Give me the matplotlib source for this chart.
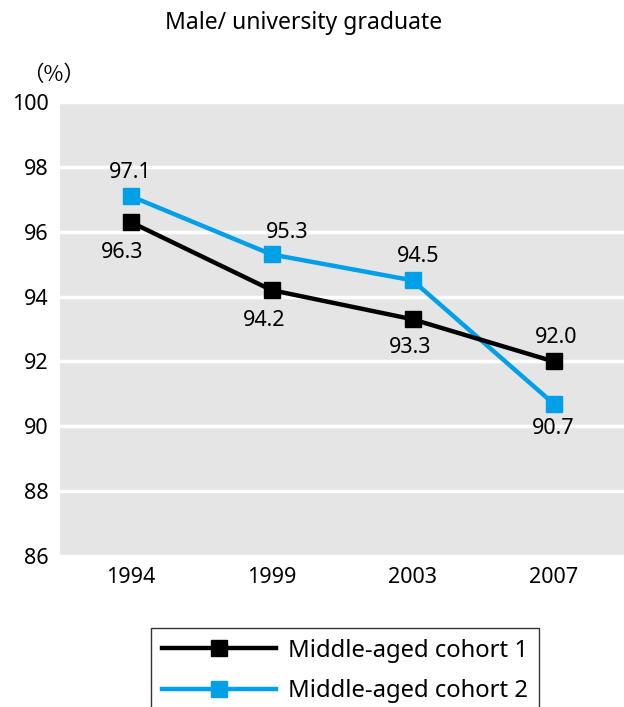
import matplotlib.pyplot as plt

plt.rcParams['font.family'] = ['Noto Sans', 'DejaVu Sans']

# Survey years and shares (%) for the two cohorts
years = ['1994', '1999', '2003', '2007']
cohort_1 = [96.3, 94.2, 93.3, 92.0]
cohort_2 = [97.1, 95.3, 94.5, 90.7]
names = ['Middle-aged cohort 1', 'Middle-aged cohort 2']
y_ticks = [86, 88, 90, 92, 94, 96, 98, 100]

BLUE = '#00a0e9'
BG = '#e5e5e5'

fig = plt.figure(figsize=(6.24, 7.07), dpi=100)
ax = fig.add_axes([0.0962, 0.2136, 0.9038, 0.6421])
ax.set_facecolor(BG)

xs = list(range(len(years)))
l1, = ax.plot(xs, cohort_1, color='black', lw=3.2, marker='s', ms=12,
              zorder=4, label=names[0])
l2, = ax.plot(xs, cohort_2, color=BLUE, lw=3.2, marker='s', ms=12,
              zorder=3, label=names[1])

# value labels: (dx, dy) in points
off_1 = [(-6, -22), (-5, -22), (-2, -20), (2, 17)]
off_2 = [(0, 17), (11, 16), (4, 17), (0, -18)]
for i in xs:
    ax.annotate(f'{cohort_1[i]:.1f}', (i, cohort_1[i]), xytext=off_1[i],
                textcoords='offset points', ha='center', va='center',
                fontsize=15.5, zorder=5)
    ax.annotate(f'{cohort_2[i]:.1f}', (i, cohort_2[i]), xytext=off_2[i],
                textcoords='offset points', ha='center', va='center',
                fontsize=15.5, zorder=5)

ax.set_xlim(-0.5, 3.5)
ax.set_ylim(86, 100)
ax.set_xticks(xs)
ax.set_xticklabels(years)
ax.set_yticks(y_ticks)
ax.tick_params(length=0, labelsize=15.5, pad=8)
ax.grid(axis='y', color='white', lw=2.5)
ax.set_axisbelow(True)
for s in ax.spines.values():
    s.set_visible(False)

fig.text(0.486, 0.968, 'Male/ university graduate', ha='center', va='center', fontsize=16.5)
fig.text(0.085, 0.894, '（%）', ha='center', va='center', fontsize=15.5,
         family=['Noto Sans CJK JP', 'DejaVu Sans'])

leg = fig.legend(handles=[l1, l2], loc='upper left', bbox_to_anchor=(0.242, 0.112),
                 bbox_transform=fig.transFigure, borderaxespad=0, fontsize=17.2,
                 handlelength=4.8, numpoints=1, frameon=True, fancybox=False,
                 edgecolor='black', labelspacing=0.7, borderpad=0.45,
                 handletextpad=0.5)
leg.get_frame().set_linewidth(1.0)

fig.savefig('out.png', dpi=100)
